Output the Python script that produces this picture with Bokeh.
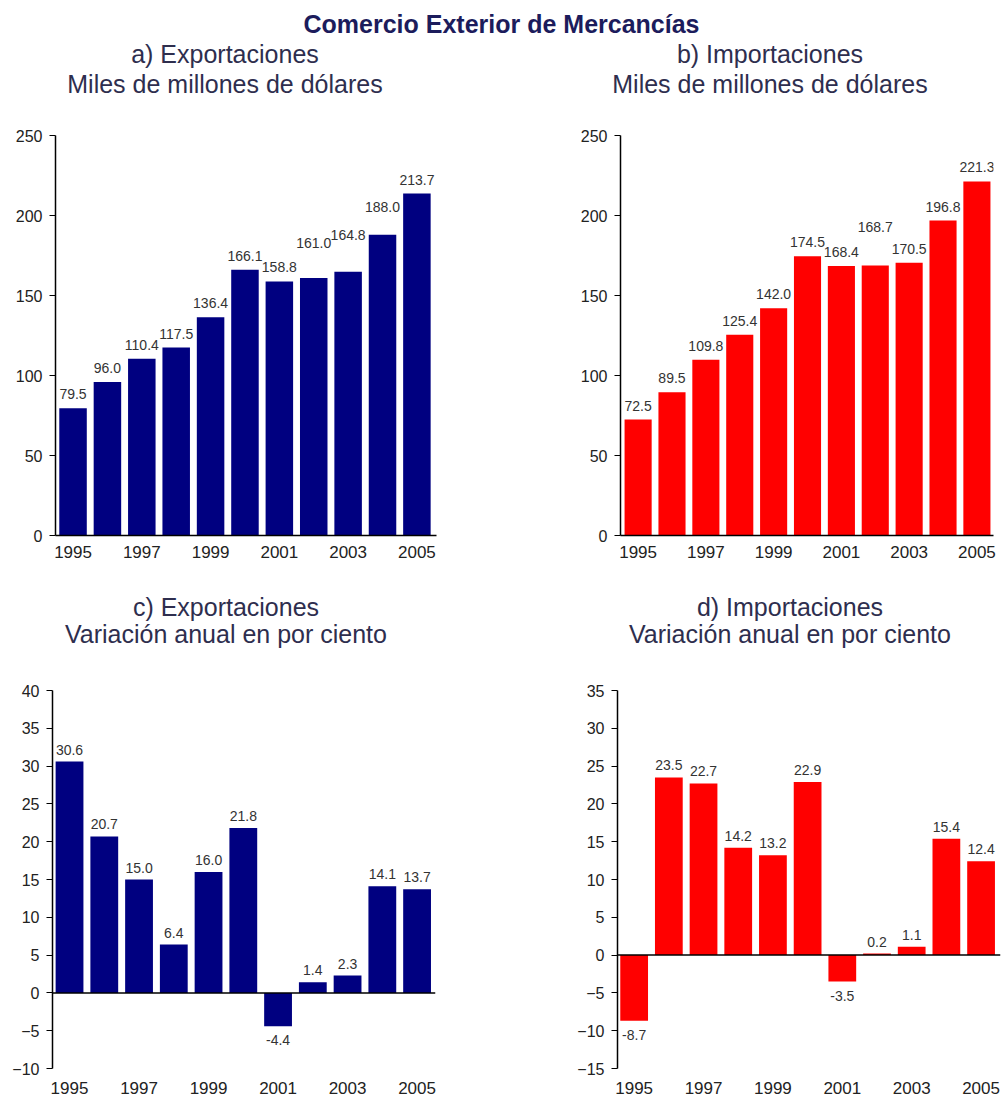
from bokeh.plotting import figure
from bokeh.models import Div, Span, ColumnDataSource, FixedTicker, Range1d, Spacer
from bokeh.layouts import column, row
from bokeh.embed import file_html
from bokeh.resources import INLINE
from bokeh.core.properties import value

# ---------------- data ----------------
years = [1995, 1996, 1997, 1998, 1999, 2000, 2001, 2002, 2003, 2004, 2005]
year_ticks = [1995, 1997, 1999, 2001, 2003, 2005]

export_levels = [79.5, 96.0, 110.4, 117.5, 136.4, 166.1, 158.8, 161.0, 164.8, 188.0, 213.7]
import_levels = [72.5, 89.5, 109.8, 125.4, 142.0, 174.5, 168.4, 168.7, 170.5, 196.8, 221.3]
export_growth = [30.6, 20.7, 15.0, 6.4, 16.0, 21.8, -4.4, 1.4, 2.3, 14.1, 13.7]
import_growth = [-8.7, 23.5, 22.7, 14.2, 13.2, 22.9, -3.5, 0.2, 1.1, 15.4, 12.4]

levels_ticks = [0, 50, 100, 150, 200, 250]
exp_growth_ticks = [-10, -5, 0, 5, 10, 15, 20, 25, 30, 35, 40]
imp_growth_ticks = [-15, -10, -5, 0, 5, 10, 15, 20, 25, 30, 35]

# extra lift (px) of some value labels, staggered as in the original to avoid overlaps
label_lift_a = [0, 0, 0, 0, 0, 0, 0, 21, 23, 14, 0]
label_lift_b = [0, 0, 0, 0, 0, 0, 0, 25, 0, 0, 0]
label_lift_none = [0] * 11

FONT = "Liberation Sans"
NAVY = "#000080"
RED = "#ff0000"


def make_panel(vals, color, yr, yticks, xr, width, height, bl, br, bt, bb,
               x_standoff, lift, base_gap, zero_line):
    pos = [i for i, v in enumerate(vals) if v >= 0]
    neg = [i for i, v in enumerate(vals) if v < 0]
    src = ColumnDataSource(dict(year=years, val=vals))
    src_pos = ColumnDataSource(dict(
        year=[years[i] for i in pos], val=[vals[i] for i in pos],
        lab=[f"{vals[i]:.1f}" for i in pos], dy=[-(base_gap + lift[i]) for i in pos]))
    src_neg = ColumnDataSource(dict(
        year=[years[i] for i in neg], val=[vals[i] for i in neg],
        lab=[f"{vals[i]:.1f}" for i in neg], dy=[base_gap - 3 for i in neg]))

    p = figure(width=width, height=height, x_range=Range1d(*xr), y_range=Range1d(*yr),
               output_backend="svg", toolbar_location=None, title=None,
               min_border_left=bl, min_border_right=br, min_border_top=bt, min_border_bottom=bb)
    p.background_fill_color = "white"
    p.border_fill_color = "white"
    p.outline_line_color = None
    p.xgrid.visible = False
    p.ygrid.visible = False

    p.vbar(x="year", top="val", bottom=0, width=0.8, fill_color=color, line_color=None, source=src)

    if zero_line:
        p.add_layout(Span(location=0, dimension="width", line_color="black", line_width=1.5))

    p.text(x="year", y="val", text="lab", source=src_pos, text_align="center",
           text_baseline="alphabetic", y_offset="dy", text_font=value(FONT),
           text_font_size="14px", text_color="#333333")
    if neg:
        p.text(x="year", y="val", text="lab", source=src_neg, text_align="center",
               text_baseline="top", y_offset="dy", text_font=value(FONT),
               text_font_size="14px", text_color="#333333")

    xa = p.xaxis[0]
    xa.ticker = FixedTicker(ticks=year_ticks)
    xa.major_tick_out = 0
    xa.major_tick_in = 0
    xa.minor_tick_out = 0
    xa.minor_tick_in = 0
    xa.major_tick_line_color = None
    xa.minor_tick_line_color = None
    xa.major_label_standoff = x_standoff
    xa.major_label_text_font = FONT
    xa.major_label_text_font_size = "17px"
    xa.major_label_text_color = "#222222"
    if zero_line:
        xa.axis_line_color = None
    else:
        xa.axis_line_color = "black"
        xa.axis_line_width = 1.5

    ya = p.yaxis[0]
    ya.ticker = FixedTicker(ticks=yticks)
    ya.major_tick_out = 6
    ya.major_tick_in = 0
    ya.minor_tick_line_color = None
    ya.major_tick_line_color = "black"
    ya.major_tick_line_width = 1.2
    ya.axis_line_color = "black"
    ya.axis_line_width = 1.5
    ya.major_label_standoff = 7
    ya.major_label_text_font = FONT
    ya.major_label_text_font_size = "16px"
    ya.major_label_text_color = "#222222"
    return p


pa = make_panel(export_levels, NAVY, (0, 250), levels_ticks, (1994.49, 2005.57),
                434, 489, 47, 6, 30, 59, 10, label_lift_a, 14, False)
pb = make_panel(import_levels, RED, (0, 250), levels_ticks, (1994.48, 2005.49),
                560, 489, 178, 9, 30, 59, 10, label_lift_b, 14, False)
pc = make_panel(export_growth, NAVY, (-10, 40), exp_growth_ticks, (1994.51, 2005.53),
                436, 448, 44, 9, 30, 34, 13, label_lift_none, 12, True)
pd = make_panel(import_growth, RED, (-15, 35), imp_growth_ticks, (1994.52, 2005.56),
                558, 448, 173, 2, 36, 34, 13, label_lift_none, 12, True)


def title_div(text, width, height, lh, bold=False, color="#2e2e4e"):
    st = {"font-family": "'Liberation Sans', Arial, sans-serif", "font-size": "25px",
          "color": color, "text-align": "center", "line-height": f"{lh}px",
          "white-space": "nowrap"}
    if bold:
        st["font-weight"] = "bold"
    return Div(text=text, width=width, height=height, margin=(0, 0, 0, 0), styles=st)


main_title = title_div("Comercio Exterior de Mercancías", 987, 31, 32, bold=True, color="#1c1c5c")
sub_a = title_div("a) Exportaciones<br>Miles de millones de dólares", 434, 66, 30)
sub_b = title_div("b) Importaciones<br>Miles de millones de dólares", 450, 66, 30)
sub_c = title_div("c) Exportaciones<br>Variación anual en por ciento", 436, 60, 27)
sub_d = title_div("d) Importaciones<br>Variación anual en por ciento", 410, 60, 27)

layout = column(
    main_title,
    row(sub_a, Spacer(width=103, height=66), sub_b, spacing=0),
    row(pa, pb, spacing=0),
    row(sub_c, Spacer(width=141, height=60), sub_d, spacing=0),
    row(pc, pd, spacing=0),
    spacing=0,
    margin=(8, 0, 0, 8),
)

open("out.html", "w").write(file_html(layout, INLINE))
